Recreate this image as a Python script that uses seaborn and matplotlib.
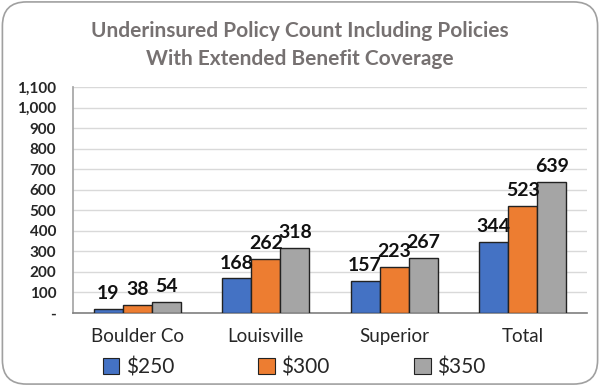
import matplotlib
matplotlib.use("Agg")
import matplotlib.pyplot as plt
import seaborn as sns
import pandas as pd
from matplotlib.patches import FancyBboxPatch, Patch
from matplotlib.ticker import FuncFormatter, MultipleLocator

categories = ["Boulder Co", "Louisville", "Superior", "Total"]
series_names = ["$250", "$300", "$350"]
v250 = [19, 168, 157, 344]
v300 = [38, 262, 223, 523]
v350 = [54, 318, 267, 639]
colors = ["#4472C4", "#ED7D31", "#A5A5A5"]

rows = []
for name, vals in zip(series_names, [v250, v300, v350]):
    for c, v in zip(categories, vals):
        rows.append({"cat": c, "series": name, "value": v})
df = pd.DataFrame(rows)

sns.set_theme(style="white")
plt.rcParams['font.family'] = ['Lato', 'DejaVu Sans']

fig = plt.figure(figsize=(6, 3.86), dpi=100)
ax = fig.add_axes([73/600, 1-313/386, (587-73)/600, (313-87)/386])

sns.barplot(data=df, x="cat", y="value", hue="series", order=categories,
            hue_order=series_names, palette=colors, saturation=1, width=0.68, gap=0,
            edgecolor="#222222", linewidth=1.0, ax=ax, legend=False, zorder=3)

for cont in ax.containers:
    ax.bar_label(cont, fmt="%d", padding=5, fontsize=14, fontweight="bold", color="#111111")

ax.set_ylim(0, 1100)
ax.yaxis.set_major_locator(MultipleLocator(100))
ax.yaxis.set_major_formatter(FuncFormatter(lambda v, p: "-" if v == 0 else f"{int(v):,}"))
ax.grid(axis="y", color="#d9d9d9", linewidth=1, zorder=0)
ax.set_axisbelow(True)
for s in ["top", "right"]:
    ax.spines[s].set_visible(False)
ax.spines["left"].set_color("#a6a6a6")
ax.spines["bottom"].set_color("#7f7f7f")
ax.spines["bottom"].set_linewidth(1.2)
ax.set_xlabel("")
ax.set_ylabel("")
ax.tick_params(axis="y", labelsize=11, length=0, pad=12)
for t in ax.get_yticklabels():
    t.set_fontweight("bold")
ax.tick_params(axis="x", labelsize=13.5, length=0, pad=11)
ax.set_xlim(-0.5, 3.5)

fig.text(0.5, 1-31/386, "Underinsured Policy Count Including Policies", ha="center", va="center",
         fontsize=15, fontweight="bold", color="#767171")
fig.text(0.5, 1-59/386, "With Extended Benefit Coverage", ha="center", va="center",
         fontsize=15, fontweight="bold", color="#767171")

handles = [Patch(facecolor=c, edgecolor="#222222", linewidth=0.8) for c in colors]
fig.legend(handles, series_names, loc="center", bbox_to_anchor=(0.49, 1-367/386), ncol=3,
           frameon=False, fontsize=15, handlelength=0.8, handleheight=0.8,
           handletextpad=0.3, columnspacing=4.05)

border = FancyBboxPatch((0.004, 0.005), 0.992, 0.99, boxstyle="round,pad=0,rounding_size=0.04",
                        transform=fig.transFigure, facecolor="none", edgecolor="#a0a0a0",
                        linewidth=1.2, mutation_aspect=600/386)
fig.patches.append(border)

fig.savefig("out.png", dpi=100)
